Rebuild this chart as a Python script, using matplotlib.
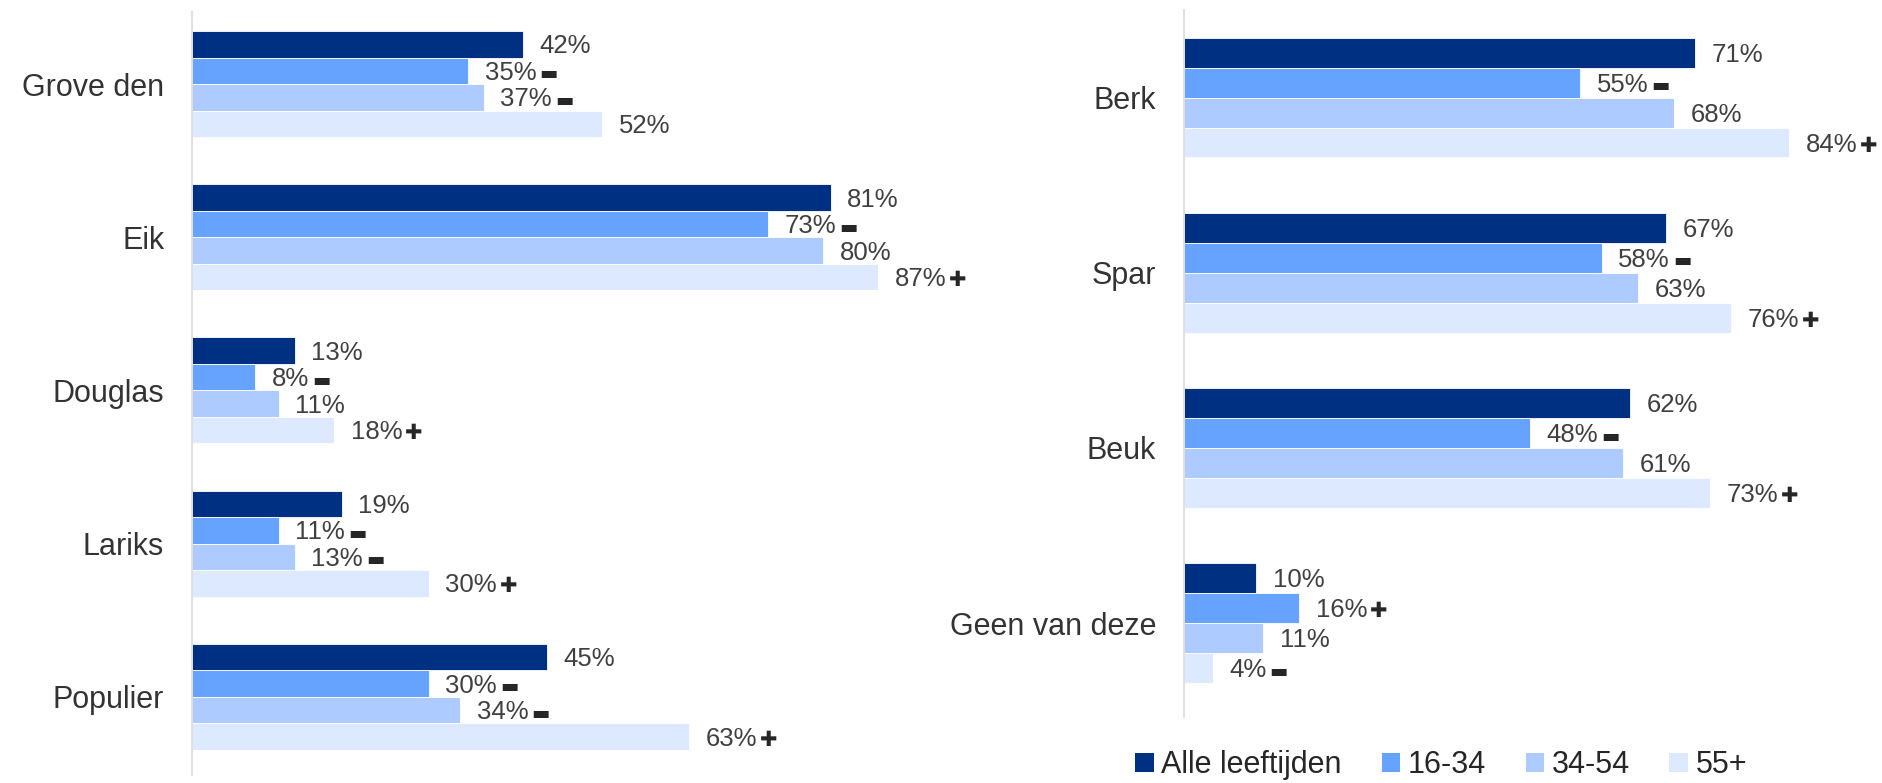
import matplotlib
matplotlib.use("Agg")
import matplotlib.pyplot as plt
from matplotlib.patches import Patch

plt.rcParams['font.family'] = ['Liberation Sans', 'DejaVu Sans']

series = ["Alle leeftijden", "16-34", "34-54", "55+"]
colors = ["#003082", "#66A3FF", "#ADCBFF", "#DDE9FF"]

left_cats = ["Grove den", "Eik", "Douglas", "Lariks", "Populier"]
left_vals = [
    [42, 35, 37, 52],
    [81, 73, 80, 87],
    [13, 8, 11, 18],
    [19, 11, 13, 30],
    [45, 30, 34, 63],
]
left_sig = [
    ["", "-", "-", ""],
    ["", "-", "", "+"],
    ["", "-", "", "+"],
    ["", "-", "-", "+"],
    ["", "-", "-", "+"],
]

right_cats = ["Berk", "Spar", "Beuk", "Geen van deze"]
right_vals = [
    [71, 55, 68, 84],
    [67, 58, 63, 76],
    [62, 48, 61, 73],
    [10, 16, 11, 4],
]
right_sig = [
    ["", "-", "", "+"],
    ["", "-", "", "+"],
    ["", "-", "", "+"],
    ["", "+", "", "-"],
]

W, H = 1883, 783
fig = plt.figure(figsize=(W / 100, H / 100), dpi=100)

ax1 = fig.add_axes([192 / W, 8 / H, 788.5 / W, 763 / H])
ax2 = fig.add_axes([1184 / W, 66 / H, 684 / W, 707 / H])

txt_color = "#404040"
labels = []


def draw(ax, cats, vals, sigs, xmax, ylim, bh):
    for i, row in enumerate(vals):
        for j, v in enumerate(row):
            y = i + (j - 1.5) * bh
            ax.barh(y, v, height=bh, color=colors[j], edgecolor="white", linewidth=0.6)
            t = ax.annotate(f"{v}%", (v, y), xytext=(12, -1.5), textcoords="offset points",
                            va="center", ha="left", fontsize=18.5, color=txt_color)
            labels.append((ax, t, sigs[i][j]))
    ax.set_xlim(0, xmax)
    ax.set_ylim(*ylim)
    ax.set_yticks(range(len(cats)))
    ax.set_yticklabels(cats, fontsize=22, color="#333333")
    ax.tick_params(axis="y", length=0, pad=20)
    ax.set_xticks([])
    for s in ["top", "right", "bottom"]:
        ax.spines[s].set_visible(False)
    ax.spines["left"].set_color("#D9D9D9")
    ax.spines["left"].set_linewidth(1.2)


draw(ax1, left_cats, left_vals, left_sig, 100, (4.51, -0.47), 0.173)
draw(ax2, right_cats, right_vals, right_sig, 95, (3.536, -0.50), 0.171)

fig.canvas.draw()
renderer = fig.canvas.get_renderer()
inv = fig.transFigure.inverted()
for ax, t, s in labels:
    if not s:
        continue
    bb = t.get_window_extent(renderer)
    x, y = inv.transform((bb.x1 + 3, (bb.y0 + bb.y1) / 2 - 1))
    if s == "+":
        fig.text(x, y, "\u271a", fontsize=15, color="#262626", va="center", ha="left",
                 family="DejaVu Sans")
    else:
        fig.text(x, y, "\u25ac", fontsize=14, color="#262626", va="center", ha="left",
                 family="DejaVu Sans")

handles = [Patch(facecolor=c, edgecolor="none") for c in colors]
fig.legend(handles, series, loc="center left", bbox_to_anchor=(1108 / W, 18 / H), ncol=4,
           frameon=False, fontsize=22, handlelength=0.6, handleheight=0.6,
           handletextpad=0.25, columnspacing=1.3, labelcolor="#262626")

fig.savefig("out.png", dpi=100)
